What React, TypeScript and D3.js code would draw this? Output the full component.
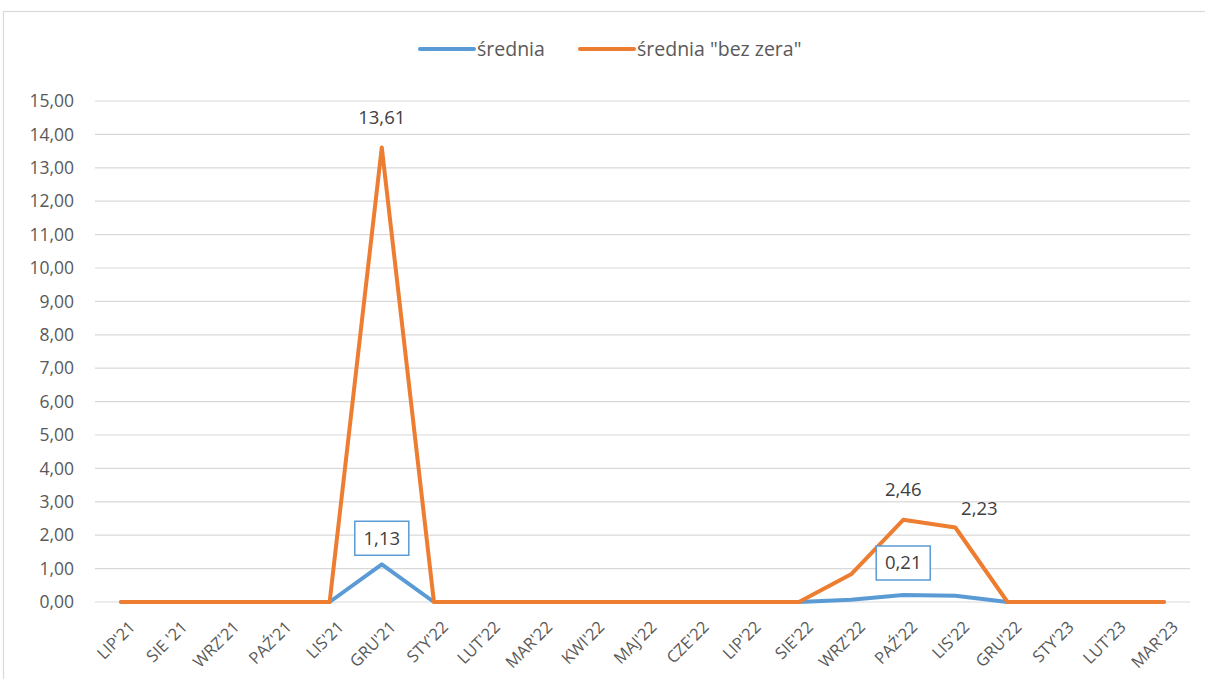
import React, { useEffect, useRef } from "react";
import * as d3 from "d3";

const months = [
  "LIP'21", "SIE '21", "WRZ'21", "PAŹ'21", "LIS'21", "GRU'21", "STY'22",
  "LUT'22", "MAR'22", "KWI'22", "MAJ'22", "CZE'22", "LIP'22", "SIE'22",
  "WRZ'22", "PAŹ'22", "LIS'22", "GRU'22", "STY'23", "LUT'23", "MAR'23",
];

const srednia = [0, 0, 0, 0, 0, 1.13, 0, 0, 0, 0, 0, 0, 0, 0, 0.07, 0.21, 0.19, 0, 0, 0, 0];
const sredniaBezZera = [0, 0, 0, 0, 0, 13.61, 0, 0, 0, 0, 0, 0, 0, 0, 0.83, 2.46, 2.23, 0, 0, 0, 0];

const yTicks = d3.range(0, 16, 1);

const seriesNames = ["średnia", 'średnia "bez zera"'];
const colors = ["#5B9BD5", "#ED7D31"];

// which points get a value label: [series index, category index]
const labelled: [number, number][] = [
  [1, 5], [0, 5], [1, 15], [1, 16], [0, 15],
];

const fmt = (v: number) => v.toFixed(2).replace(".", ",");

const App = () => {
  const ref = useRef<SVGSVGElement>(null);

  useEffect(() => {
    const width = 1205, height = 679;
    const margin = { top: 101, right: 15, bottom: 77, left: 95 };
    const svg = d3.select(ref.current);
    svg.selectAll("*").remove();

    const font = "'Open Sans', Lato, sans-serif";

    // outer frame
    svg.append("rect")
      .attr("x", 3.5).attr("y", 11.5)
      .attr("width", width + 10).attr("height", height + 10)
      .attr("fill", "white").attr("stroke", "#D9D9D9").attr("stroke-width", 1.2);

    const x = d3.scalePoint<string>()
      .domain(months)
      .range([margin.left, width - margin.right])
      .padding(0.5);
    const y = d3.scaleLinear().domain([0, 15]).range([height - margin.bottom, margin.top]);

    // gridlines
    svg.append("g").selectAll("line").data(yTicks).join("line")
      .attr("x1", margin.left).attr("x2", width - margin.right)
      .attr("y1", d => y(d)).attr("y2", d => y(d))
      .attr("stroke", "#D9D9D9").attr("stroke-width", 1.2);

    // y labels
    svg.append("g").selectAll("text").data(yTicks).join("text")
      .attr("x", 74).attr("y", d => y(d)).attr("dy", "0.35em")
      .attr("text-anchor", "end")
      .attr("font-family", font).attr("font-size", 17.5).attr("fill", "#595959")
      .text(d => fmt(d));

    // x labels
    svg.append("g").selectAll("text").data(months).join("text")
      .attr("transform", d => `translate(${x(d)! + 7},${height - margin.bottom + 18}) rotate(-45)`)
      .attr("text-anchor", "end").attr("dy", "0.7em")
      .attr("font-family", font).attr("font-size", 16.5).attr("fill", "#595959")
      .text(d => d);

    const line = d3.line<number>()
      .x((_, i) => x(months[i])!)
      .y(d => y(d));

    [srednia, sredniaBezZera].forEach((s, k) => {
      svg.append("path")
        .datum(s)
        .attr("d", line)
        .attr("fill", "none")
        .attr("stroke", colors[k])
        .attr("stroke-width", 4)
        .attr("stroke-linejoin", "round")
        .attr("stroke-linecap", "round");
    });

    // data labels
    const all = [srednia, sredniaBezZera];
    labelled.forEach(([k, i]) => {
      const v = all[k][i];
      const cx = x(months[i])! + (k === 1 && i === 16 ? 24 : 0);
      if (k === 0) {
        const by = i === 15 ? 563 : y(v) - 26;
        svg.append("rect")
          .attr("x", x(months[i])! - 27).attr("y", by - 17)
          .attr("width", 54).attr("height", 34)
          .attr("fill", "white").attr("stroke", colors[0]).attr("stroke-width", 1.5);
        svg.append("text")
          .attr("x", cx).attr("y", by).attr("dy", "0.35em")
          .attr("text-anchor", "middle")
          .attr("font-family", font).attr("font-size", 18.5).attr("fill", "#404040")
          .text(fmt(v));
      } else {
        const ly = y(v) - (i === 16 ? 19 : 30);
        svg.append("text")
          .attr("x", cx).attr("y", ly).attr("dy", "0.35em")
          .attr("text-anchor", "middle")
          .attr("font-family", font).attr("font-size", 18.5).attr("fill", "#404040")
          .text(fmt(v));
      }
    });

    // legend
    const legendX = [420, 580];
    seriesNames.forEach((n, k) => {
      svg.append("line")
        .attr("x1", legendX[k]).attr("x2", legendX[k] + 54)
        .attr("y1", 49).attr("y2", 49)
        .attr("stroke", colors[k]).attr("stroke-width", 4).attr("stroke-linecap", "round");
      svg.append("text")
        .attr("x", legendX[k] + 57).attr("y", 49).attr("dy", "0.35em")
        .attr("font-family", font).attr("font-size", 19.5).attr("fill", "#595959")
        .text(n);
    });
  }, []);

  return (
    <div style={{ position: "absolute", left: 0, top: 0 }}>
      <svg ref={ref} width={1205} height={679} style={{ display: "block" }} />
    </div>
  );
};

export default App;
